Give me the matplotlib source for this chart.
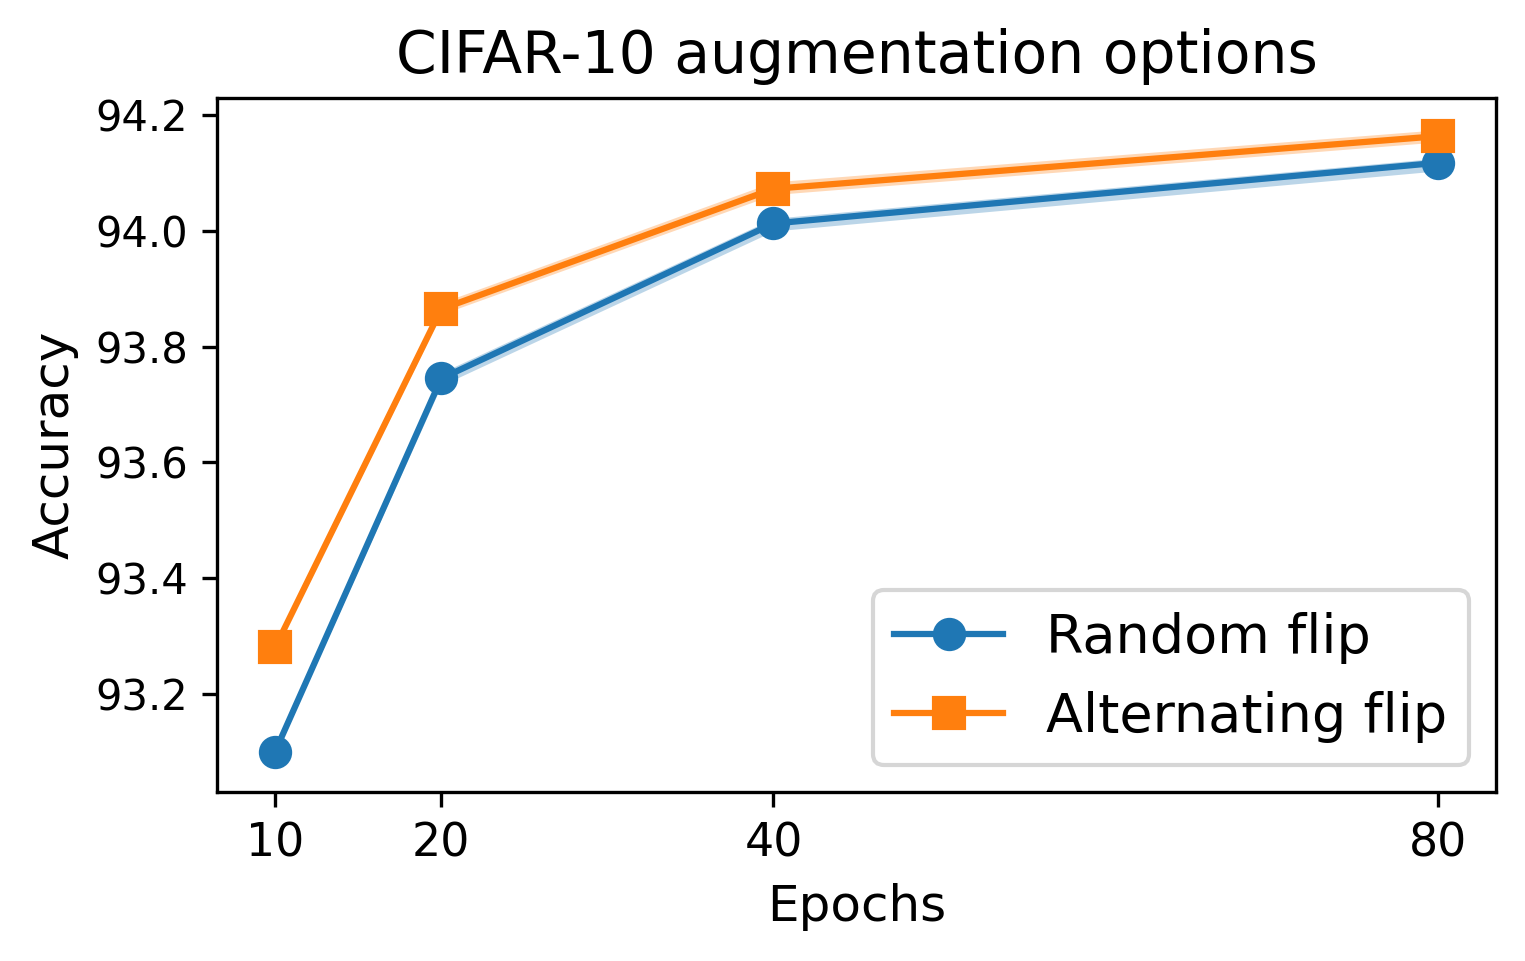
import matplotlib.pyplot as plt
import numpy as np

epochs = [10, 20, 40, 80]
random_flip = [93.100, 93.745, 94.013, 94.118]
random_lo = [93.094, 93.733, 94.000, 94.104]
random_hi = [93.106, 93.755, 94.022, 94.126]
alt_flip = [93.280, 93.865, 94.073, 94.164]
alt_lo = [93.274, 93.856, 94.063, 94.154]
alt_hi = [93.286, 93.876, 94.085, 94.175]

fig = plt.figure(figsize=(1525 / 300, 961 / 300), dpi=300)
ax = fig.add_axes([217 / 1525, 1 - 792 / 961, (1496 - 217) / 1525, (792 - 98) / 961])

ax.fill_between(epochs, random_lo, random_hi, color="C0", alpha=0.3, linewidth=0)
ax.plot(epochs, random_flip, marker="o", markersize=7, color="C0", label="Random flip")
ax.fill_between(epochs, alt_lo, alt_hi, color="C1", alpha=0.3, linewidth=0)
ax.plot(epochs, alt_flip, marker="s", markersize=7, color="C1", label="Alternating flip")

ax.set_xticks(epochs)
ax.set_xticklabels([str(e) for e in epochs], fontsize=11)
ax.set_yticks([93.2, 93.4, 93.6, 93.8, 94.0, 94.2])
ax.tick_params(axis="y", labelsize=10)
ax.set_ylim(93.03, 94.23)
ax.set_xlim(6.5, 83.5)
ax.set_xlabel("Epochs", fontsize=12)
ax.set_ylabel("Accuracy", fontsize=12)
ax.set_title("CIFAR-10 augmentation options", fontsize=14)
ax.legend(loc="lower right", fontsize=13)

fig.savefig("out.png", dpi=300)
